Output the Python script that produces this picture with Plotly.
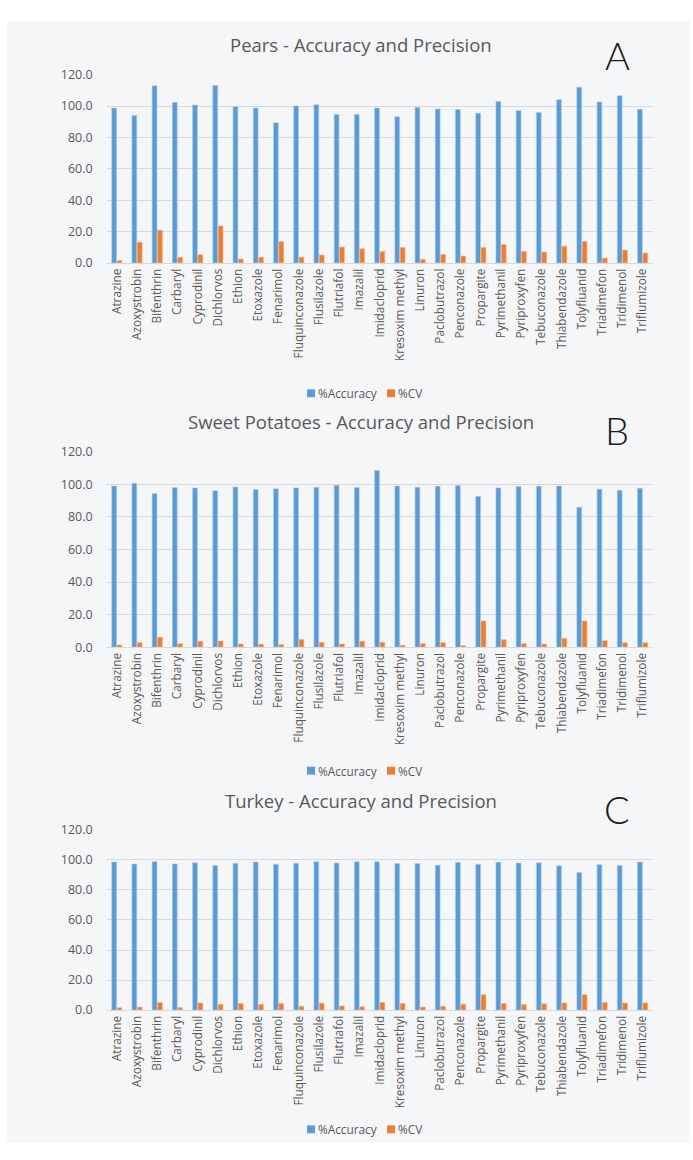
import plotly.graph_objects as go

compounds = [
    "Atrazine", "Azoxystrobin", "Bifenthrin", "Carbaryl", "Cyprodinil", "Dichlorvos",
    "Ethion", "Etoxazole", "Fenarimol", "Fluquinconazole", "Flusilazole", "Flutriafol",
    "Imazalil", "Imidacloprid", "Kresoxim methyl", "Linuron", "Paclobutrazol",
    "Penconazole", "Propargite", "Pyrimethanil", "Pyriproxyfen", "Tebuconazole",
    "Thiabendazole", "Tolyfluanid", "Triadimefon", "Tridimenol", "Triflumizole",
]

pears_accuracy = [98.8, 94.0, 112.9, 102.4, 100.7, 113.1, 99.7, 98.8, 89.4, 100.1, 100.9, 94.7,
                  94.7, 98.8, 93.2, 99.1, 98.2, 97.8, 95.5, 103.0, 97.2, 95.9, 104.1, 112.0,
                  102.6, 106.6, 98.0]
pears_cv = [1.5, 13.2, 20.9, 3.6, 5.2, 23.5, 2.5, 3.6, 13.6, 3.6, 5.0, 10.1,
            9.0, 7.3, 9.8, 2.3, 5.4, 4.4, 9.8, 11.7, 7.3, 6.9, 10.7, 13.6,
            3.1, 8.2, 6.3]

sweet_potato_accuracy = [99.0, 100.6, 94.4, 98.0, 97.8, 96.0, 98.4, 96.8, 97.2, 97.8, 98.2, 99.4,
                         98.0, 108.5, 99.0, 98.2, 98.8, 99.2, 92.6, 97.8, 98.6, 98.8, 99.0, 85.9,
                         97.0, 96.4, 97.6]
sweet_potato_cv = [1.4, 2.8, 6.1, 2.2, 3.6, 3.8, 2.0, 1.8, 1.6, 4.8, 3.0, 2.0,
                   3.6, 3.0, 1.2, 2.2, 2.8, 1.0, 16.1, 4.6, 2.2, 2.0, 5.4, 16.1,
                   4.0, 2.8, 2.8]

turkey_accuracy = [98.6, 97.3, 98.8, 97.3, 98.1, 96.2, 97.7, 98.6, 97.0, 97.7, 98.8, 97.9,
                   98.8, 98.8, 97.5, 97.5, 96.4, 98.4, 97.0, 98.4, 97.9, 98.1, 96.0, 91.6,
                   96.8, 96.2, 98.6]
turkey_cv = [1.5, 2.0, 5.0, 1.7, 4.8, 3.9, 4.4, 3.9, 4.4, 2.6, 4.6, 2.8,
             2.2, 5.0, 4.4, 2.0, 2.6, 3.9, 10.3, 4.4, 3.7, 4.2, 4.8, 10.3,
             5.0, 4.8, 4.8]

panel_titles = ["Pears - Accuracy and Precision",
                "Sweet Potatoes - Accuracy and Precision",
                "Turkey - Accuracy and Precision"]
panel_letters = ["A", "B", "C"]
series_names = ["%Accuracy", "%CV"]
y_ticks = [0, 20, 40, 60, 80, 100, 120]

W, H = 693, 1160
BLUE = "#5B9BD5"
ORANGE = "#ED7D31"
TEXT = "#595959"
GRID = "#D9D9D9"
FONT = "Open Sans"

# pixel geometry of each panel: plot top, plot bottom, title y, letter y, legend y
panels = [
    dict(top=66.7, bottom=257.7, title_y=36, letter_y=47, legend_y=390),
    dict(top=449.3, bottom=647.7, title_y=419, letter_y=427, legend_y=773),
    dict(top=833.0, bottom=1016.0, title_y=803, letter_y=812, legend_y=1137),
]
x_left, x_right = 106.7, 652.7


def px(x):
    return x / W


def py(y):
    return 1 - y / H


series = [
    (pears_accuracy, pears_cv),
    (sweet_potato_accuracy, sweet_potato_cv),
    (turkey_accuracy, turkey_cv),
]

fig = go.Figure()
annotations = []
shapes = [dict(type="rect", xref="paper", yref="paper", layer="below",
               x0=px(7), x1=px(690), y0=py(1150), y1=py(12),
               fillcolor="#F5F6F8", line=dict(width=0))]
layout_axes = {}

for i, ((acc, cv), p) in enumerate(zip(series, panels)):
    n = "" if i == 0 else str(i + 1)
    xa, ya = "x" + n, "y" + n
    fig.add_trace(go.Bar(x=compounds, y=acc, name=series_names[0], marker_color=BLUE,
                         marker_line=dict(width=0.6, color="#A9CBEA"),
                         xaxis=xa, yaxis=ya, showlegend=False))
    fig.add_trace(go.Bar(x=compounds, y=cv, name=series_names[1], marker_color=ORANGE,
                         marker_line=dict(width=0.6, color="#F5B48A"),
                         xaxis=xa, yaxis=ya, showlegend=False))

    layout_axes["xaxis" + n] = dict(
        domain=[px(x_left), px(x_right)], anchor=ya, type="category",
        tickangle=-90, showgrid=False, showline=True, linecolor=GRID, linewidth=1,
        ticks="", tickfont=dict(family=FONT, size=11.8, color=TEXT),
    )
    layout_axes["yaxis" + n] = dict(
        domain=[py(p["bottom"]), py(p["top"])], anchor=xa,
        range=[0, 120], tickvals=y_ticks, tickformat=".1f",
        showgrid=True, gridcolor=GRID, gridwidth=1, zeroline=False, showline=False,
        ticks="", ticklabelstandoff=13,
        tickfont=dict(family=FONT, size=12.5, color=TEXT),
    )
    annotations.append(dict(
        text=panel_titles[i], x=px(361), y=py(p["title_y"]), xref="paper", yref="paper",
        xanchor="center", yanchor="middle", showarrow=False,
        font=dict(family=FONT, size=18.5, color=TEXT),
    ))
    annotations.append(dict(
        text=panel_letters[i], x=px(617), y=py(p["letter_y"]), xref="paper", yref="paper",
        xanchor="center", yanchor="middle", showarrow=False,
        font=dict(family="Lato", size=38, color="#1A1A1A", weight=300),
    ))

    # legend key: coloured square followed by the series name
    ly = p["legend_y"]
    for (sx, tx), name, color in zip([(307, 316), (387, 396)], series_names, [BLUE, ORANGE]):
        shapes.append(dict(type="rect", xref="paper", yref="paper",
                           x0=px(sx), x1=px(sx + 8), y0=py(ly + 4), y1=py(ly - 4),
                           fillcolor=color, line=dict(width=0)))
        annotations.append(dict(
            text=name, x=px(tx), y=py(ly), xref="paper", yref="paper",
            xanchor="left", yanchor="middle", showarrow=False,
            font=dict(family=FONT, size=11.8, color=TEXT),
        ))

fig.update_layout(
    width=W, height=H, autosize=False,
    margin=dict(l=0, r=0, t=0, b=0),
    paper_bgcolor="white", plot_bgcolor="rgba(0,0,0,0)",
    barmode="group", bargap=0.47, bargroupgap=0.1,
    showlegend=False,
    annotations=annotations,
    shapes=shapes,
    **layout_axes,
)

# pin the chart to the top-left corner of the page
pin_chart = (
    "document.body.style.margin='0';"
    "document.documentElement.style.overflow='hidden';"
    "var gd=document.getElementById('{plot_id}');"
    "gd.style.position='fixed';gd.style.top='0px';gd.style.left='0px';"
)
fig.write_html("out.html", post_script=pin_chart)
